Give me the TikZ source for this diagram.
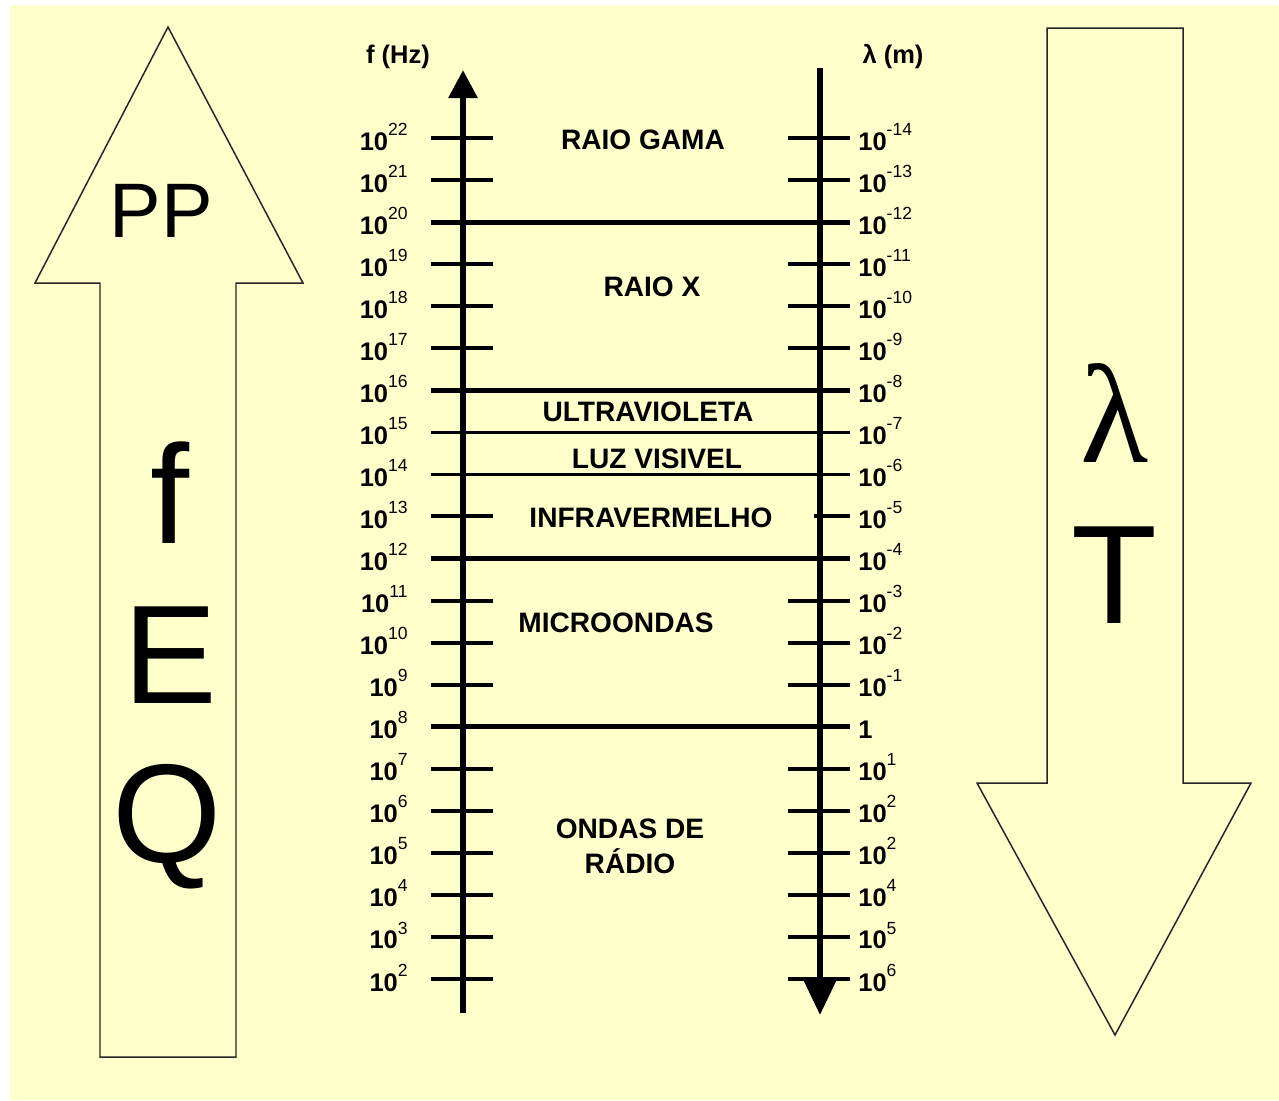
\documentclass[tikz,border=0pt]{standalone}
\usepackage{fontspec}
\setmainfont{Liberation Sans}
\newfontfamily\greekserif{Liberation Serif}
\usetikzlibrary{arrows.meta}
\definecolor{paper}{RGB}{255,255,204}
\newcommand{\tn}[1]{10\raisebox{8.5pt}{\fontsize{10}{10}\selectfont\mdseries #1}}

\begin{document}
\begin{tikzpicture}[x=0.02cm, y=-0.02cm,
    outline/.style={draw=black!85, line width=0.85pt, fill=paper, line join=miter},
    axis/.style={line width=3.4pt},
    tick/.style={line width=2.3pt},
    band/.style={line width=2.8pt},
    thinband/.style={line width=2pt},
    num/.style={font=\fontsize{14.5}{16}\selectfont\bfseries, inner sep=0pt},
    region/.style={font=\fontsize{16}{20}\selectfont\bfseries, inner sep=0pt},
    big/.style={font=\fontsize{80}{80}\selectfont, inner sep=0pt, anchor=base}]

        % Background
        \fill[white] (0,0) rectangle (1279,1100);
        \fill[paper] (10,5) rectangle (1279,1100);
        \useasboundingbox (0,0) rectangle (1279,1100);

        % Big arrows
        \draw[outline] (100,1057) -- (100,283) -- (35,283) -- (168,27) -- (303,283) -- (236,283) -- (236,1057) -- cycle;
        \draw[outline] (1047,28) -- (1183,28) -- (1183,783) -- (1251,783) -- (1115,1035) -- (977,783) -- (1047,783) -- cycle;

        % Letters in the arrows
        \node[font=\fontsize{44}{44}\selectfont, inner sep=0pt, anchor=base] (pp) at (161,237) {PP};
        \node[big] (freq) at (170,543) {f};
        \node[big] (energy) at (170,703) {E};
        \node[big] (qty) at (167,862) {Q};
        \node[big, font=\fontsize{80}{80}\selectfont\greekserif] (lambda) at (1115,462) {λ};
        \node[big] (period) at (1114,623) {T};

        % Axes
        \coordinate (fbot) at (463,1013);
        \coordinate (ftop) at (463,70);
        \coordinate (wtop) at (820,68);
        \coordinate (wbot) at (820,1015);
        \draw[axis, -{Triangle[length=16pt, width=16pt]}] (fbot) -- (ftop);
        \draw[axis, -{Triangle[length=21pt, width=19pt]}] (wtop) -- (wbot);
        \node[num] (fhead) at (398,57) {f (Hz)};
        \node[num] (whead) at (893,57) {λ (m)};

        % Scale labels
        \foreach \e [count=\i from 0] in {22,21,...,2} {
            \node[num, anchor=base east] (f\e) at (408,{150+\i*42.05}) {\tn{\e}};
        }
        \foreach \lab [count=\i from 0] in {\tn{-14},\tn{-13},\tn{-12},\tn{-11},\tn{-10},\tn{-9},\tn{-8},\tn{-7},
                \tn{-6},\tn{-5},\tn{-4},\tn{-3},\tn{-2},\tn{-1},1,\tn{1},\tn{2},\tn{2},\tn{4},\tn{5},\tn{6}} {
            \node[num, anchor=base west] (w\i) at (858,{150+\i*42.05}) {\lab};
        }

        % Ticks
        \foreach \e in {22,21,19,18,17,13,11,10,9,7,6,5,4,3,2} {
            \pgfmathsetmacro\yy{138+(22-\e)*42.05}
            \draw[tick] (431,\yy) -- (493,\yy);
        }
        \foreach \e in {22,21,19,18,17,11,10,9,7,6,5,4,3,2} {
            \pgfmathsetmacro\yy{138+(22-\e)*42.05}
            \draw[tick] (788,\yy) -- (850,\yy);
        }
        \draw[tick] (814,{138+9*42.05}) -- (850,{138+9*42.05});

        % Band limits
        \foreach \e/\s in {20/band, 16/band, 15/thinband, 14/thinband, 12/band, 8/band} {
            \pgfmathsetmacro\yy{138+(22-\e)*42.05}
            \draw[\s] (431,\yy) -- (850,\yy);
        }

        % Bands
        \node[region] (gamma) at (643,140) {RAIO GAMA};
        \node[region] (xray) at (652,287) {RAIO X};
        \node[region] (uv) at (648,412) {ULTRAVIOLETA};
        \node[region] (vis) at (657,459) {LUZ VISIVEL};
        \node[region] (ir) at (651,518) {INFRAVERMELHO};
        \node[region] (micro) at (616,623) {MICROONDAS};
        \node[region, align=center] (radio) at (630,846) {ONDAS DE\\RÁDIO};
\end{tikzpicture}
\end{document}
